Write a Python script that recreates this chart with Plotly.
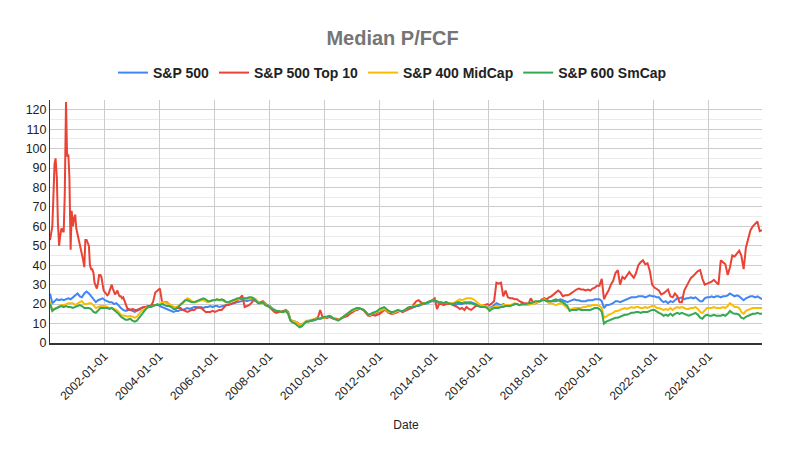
import pandas as pd
import plotly.graph_objects as go

# ---- dates ----
monthly_dates = pd.date_range("2000-01-01", "2025-12-01", freq="MS") + pd.Timedelta(days=9)
top10_dates = list(pd.date_range("2000-01-01", "2002-12-16", freq="SMS") + pd.Timedelta(days=9)) + \
    list(pd.date_range("2003-01-01", "2025-12-01", freq="MS") + pd.Timedelta(days=9))

# ---- S&P 500 (monthly, 2000-2025) ----
sp500 = [
    25.5, 20.5, 21.5, 22.5, 22, 22.5, 22, 22.5, 23, 22.5, 23.5, 24.5,
    25.5, 24, 23.5, 25.5, 26.5, 25.5, 24, 22.5, 21, 22, 22.5, 23,
    22, 21.5, 21, 21, 20, 20.5, 19, 18, 17, 16.5, 17, 17,
    16.5, 16, 16.5, 17, 18, 18.5, 18.5, 19, 19, 19.5, 19.5, 20,
    19, 18.5, 18, 17.5, 17, 16.5, 16, 16.5, 16.5, 17, 17, 17.5,
    18, 17.5, 18, 18.5, 18.5, 18, 18.5, 18, 18.5, 18.5, 19, 18.5,
    19, 19, 18.5, 18.8, 19, 19.5, 19.5, 20, 20.5, 20.5, 21, 21,
    21.5, 22, 21.5, 22, 22, 22.5, 22, 21, 20.5, 21, 20, 19.5,
    19, 18, 17, 16, 16.5, 16, 16.5, 17, 16, 12, 11, 11,
    10.5, 9.5, 9.5, 10.5, 11, 11, 11.5, 11.5, 12, 12.5, 12.5, 13,
    13, 13, 13.5, 13, 12.5, 12.5, 12, 12.5, 13.5, 14, 14.5, 15.5,
    16.5, 17, 17, 17.5, 17.5, 17, 16, 14.5, 14.5, 15, 15, 15.5,
    16, 16.5, 17.5, 17, 16, 15.5, 15.5, 16, 16.5, 16.5, 16, 16.5,
    17.5, 18, 18, 18.5, 19, 19, 19.5, 20, 20, 20.5, 21, 21.5,
    21.5, 21, 20.5, 20.5, 20.5, 21, 20.5, 20.5, 20, 19.5, 20, 20,
    20, 20.5, 20.5, 21, 21, 20.5, 20, 19.5, 19, 19.5, 19, 18.5,
    18, 18.5, 19.5, 20.5, 20, 19.5, 20, 19.5, 19.5, 19.5, 19.5, 20,
    20, 19.5, 19.5, 19.5, 19.5, 20, 20.5, 20.5, 20.5, 21, 21.5, 22.5,
    23, 22, 21.5, 21.5, 21.5, 21.5, 22, 22.5, 22, 21.5, 21, 21.5,
    22, 22.5, 22, 22, 21.5, 21.5, 21.5, 22, 22, 22, 22.5, 22.5,
    22.5, 21.5, 18, 19.5, 19.5, 20, 20.5, 21.5, 21.5, 21, 21.5, 22,
    22.5, 23, 23.5, 23.5, 23.5, 24, 24, 24, 23.5, 24, 24.5, 24,
    24, 23.5, 23.5, 22, 21, 21.5, 20.5, 21.5, 21, 22, 23, 23,
    23.5, 22.5, 23, 23, 23.5, 23, 23.5, 22.5, 21.5, 21.5, 23, 23.5,
    23.5, 24, 23.5, 24, 24, 23.5, 24, 24, 24.5, 25.5, 24.5, 24,
    24.5, 24, 23, 22, 23, 23.5, 24, 24, 23.5, 24, 23, 22.5,
]

# ---- S&P 500 Top 10 (semi-monthly 2000-2002, monthly 2003-2025) ----
sp500_top10 = [
    53, 56, 60, 75, 92, 95, 85, 62, 50, 55, 59, 58, 57, 76, 124, 96, 97, 85, 48, 68, 60, 64, 66, 59,
    56, 54, 52, 49, 46, 43, 39, 53, 53, 52, 50, 40, 38, 38, 36, 31, 29, 28, 31, 35, 35, 34, 30, 27,
    26, 25, 24.5, 25, 27, 29, 30, 28, 26, 25, 26, 27, 25, 24, 24, 23, 23.5, 22, 20, 18, 17, 17.5, 17, 17,
    17.5, 17, 17, 17.5, 18, 18.5, 18.5, 19, 19, 21, 26, 27,
    28, 20.5, 21, 21, 20, 19, 18.5, 18, 18, 18, 17, 16.5,
    16, 16.5, 17, 17, 18, 18.5, 18, 17, 16, 16, 16, 16.5,
    16, 16.5, 17, 17, 18, 19.5, 19.5, 20, 20.5, 21, 22, 23,
    24.5, 18.5, 19, 19.5, 20.5, 22, 21.5, 20.5, 21, 21.5, 20.5, 19.5,
    18, 17, 16, 15.5, 16, 16, 16.5, 16.5, 15.5, 12, 11, 10.5,
    10.5, 9.5, 9.5, 10.5, 11, 11.5, 11.5, 12, 12.5, 13, 17, 13.5,
    13, 13, 13.5, 13, 12.5, 12.5, 12, 12.5, 13, 13.5, 14, 15,
    16, 16.5, 17, 17.5, 17.5, 17, 15.5, 14, 14, 14.5, 14, 14.5,
    15, 16, 17, 16.5, 15.5, 15, 15, 15.5, 16, 16.5, 16, 16.5,
    17, 17.5, 18, 20, 21.5, 22, 21, 20, 20.5, 21, 21.5, 22,
    23, 17.5, 20, 20, 19.5, 20, 20, 20, 19.5, 19, 18.5, 17.5,
    18, 17, 18.5, 17.5, 17, 18, 19, 19, 19, 19.5, 19.5, 20,
    19.5, 20.5, 21.5, 31, 30.5, 31, 24, 27, 23.5, 23, 23, 22.5,
    22.5, 21.5, 21, 20.5, 20.5, 20, 23, 21, 20.5, 21, 21.5, 22.5,
    23, 22.5, 23.5, 24, 25, 26.5, 27, 26, 24, 24.5, 24.5, 25,
    26, 26.5, 27.5, 28, 27.5, 27.5, 27, 27.5, 27, 28, 28.5, 29.5,
    29.5, 33, 22.5, 25, 27, 30, 32, 36, 37.5, 30, 34, 33,
    35, 36.5, 35, 33.5, 36, 40, 41.5, 42.5, 40.5, 41, 37, 30,
    28.5, 27.5, 27, 25, 25.5, 26.5, 27.5, 24, 23.5, 25.5, 24, 21,
    21, 27, 29, 32, 33.5, 34.5, 35.5, 37, 37.5, 33, 30, 30.5,
    31, 31.5, 32.5, 31, 30, 42.5, 41.5, 40.5, 35, 39, 45, 44.5,
    46, 47.5, 45, 38, 49, 54, 58, 60, 61.5, 62.5, 57.5, 58,
]

# ---- S&P 400 MidCap (monthly) ----
sp400_midcap = [
    21.5, 17, 17.5, 18, 19, 19.5, 19.5, 20, 20.5, 20.5, 20.5, 19.5,
    20.5, 21, 21.5, 20, 20, 20.5, 20.5, 19.5, 18, 18.5, 19, 19,
    19, 18.5, 18, 18, 17.5, 17, 16, 14.5, 14, 14, 13.5, 14,
    13.5, 13, 13.5, 15, 16.5, 17, 18, 18.5, 18.5, 19, 19.5, 19.5,
    20, 21, 21, 20.5, 20, 19.5, 18.5, 18.5, 19, 20, 20.5, 21.5,
    23, 22.5, 21.5, 21, 21, 21.5, 22, 22, 21.5, 21, 21.5, 22,
    22, 22.5, 22, 22, 21.5, 21, 21, 21.5, 22, 22, 22.5, 22.5,
    22.5, 23, 22.5, 23, 23, 23, 22.5, 21, 20.5, 21, 20, 19,
    18.5, 18, 17, 16.5, 16.5, 16, 16, 16.5, 15.5, 12, 11, 11,
    10.5, 9.5, 9.5, 10.5, 11.5, 11.5, 12, 12, 12.5, 12.5, 12.5, 13,
    13, 13.5, 14, 13.5, 12.5, 12, 12, 12.5, 13.5, 14.5, 15, 16,
    16.5, 17, 17.5, 18, 17.5, 17, 16, 14.5, 14.5, 15.5, 15.5, 16,
    16.5, 17, 17.5, 17, 16, 16, 15.5, 16, 16.5, 16.5, 16.5, 17,
    18, 18.5, 18.5, 19, 19.5, 19.5, 20, 20.5, 20.5, 21, 21.5, 22,
    22, 21.5, 21, 21, 20.5, 21, 20.5, 20.5, 20.5, 21, 22, 22.5,
    22, 22.5, 23, 23, 23, 22.5, 21.5, 20.5, 19.5, 19.5, 19, 18.5,
    17.5, 18, 18.5, 19, 19, 19, 19.5, 19.5, 19.5, 19.5, 20, 20.5,
    20, 19.5, 19.5, 19.5, 19.5, 19.5, 20, 20, 20.5, 21, 21.5, 22,
    22.5, 21.5, 20.5, 20.5, 20, 19.5, 20, 20.5, 20, 19, 18, 17,
    17.5, 18, 18, 18, 18, 18.5, 18.5, 19, 19, 19.5, 19.5, 19.5,
    19, 18, 13, 13.5, 14.5, 15, 15.5, 16.5, 16.5, 17, 17.5, 18,
    17.5, 18, 18.5, 18, 18.5, 18.5, 18, 18, 18.5, 18, 18.5, 19,
    19, 18, 18, 17.5, 17, 17.5, 17, 18, 17, 18, 18.5, 18,
    18.5, 18, 17.5, 17.5, 18, 18, 18.5, 17.5, 16, 15.5, 17, 18,
    18, 18, 18.5, 18, 18, 18, 18.5, 18, 19, 20.5, 19.5, 18.5,
    18.5, 18, 16, 15, 16.5, 17, 17.5, 18, 18, 18, 18, 18,
]

# ---- S&P 600 SmCap (monthly) ----
sp600_smcap = [
    20, 16.5, 17.5, 18, 18.5, 19, 18.5, 19, 18.5, 18.5, 18, 18.5,
    19, 19.5, 19, 18, 18, 18, 17.5, 16, 15.5, 17, 18, 18,
    18, 18, 17.5, 18, 17, 16, 15, 13.5, 12.5, 12, 12, 12.5,
    11.5, 11, 11.5, 13, 14.5, 16.5, 17.5, 18.5, 18.5, 19, 19.5, 19.5,
    19.5, 20, 19.5, 19, 19, 18.5, 17.5, 17.5, 18.5, 19.5, 20.5, 22,
    22, 21.5, 21, 21, 21.5, 22, 22.5, 23, 22.5, 21.5, 21.5, 22,
    22, 22.5, 22, 22.5, 22, 21, 21, 21.5, 22, 22.5, 23, 23,
    22.5, 23, 23, 23.5, 23.5, 23, 22, 20.5, 20.5, 21, 19.5, 19,
    18.5, 17.5, 17, 16.5, 16.5, 16, 16, 16.5, 15, 11.5, 10.5, 10,
    9, 8, 8.5, 10, 11, 11, 11.5, 12, 12, 12.5, 12.5, 13,
    13.5, 13.5, 14, 13.5, 12.5, 12, 11.5, 12.5, 13.5, 14.5, 15.5, 16,
    17, 17.5, 18, 18, 17.5, 17, 16, 14.5, 15, 15.5, 16, 16.5,
    17.5, 18, 18.5, 17.5, 16.5, 16, 16, 16.5, 17, 16.5, 16.5, 17,
    18, 18.5, 18.5, 18.5, 19, 19.5, 20, 20.5, 20.5, 21, 21.5, 22,
    22, 21.5, 21, 21, 20.5, 21, 20.5, 20, 20, 20.5, 21, 21,
    20.5, 21, 21, 20.5, 20.5, 20, 19.5, 19, 18.5, 18.5, 18.5, 18,
    16.5, 17.5, 18, 18, 18, 18.5, 18.5, 19, 19, 19, 19.5, 20,
    20, 19.5, 20, 20, 20, 20.5, 20.5, 21, 21.5, 21.5, 21.5, 22,
    22, 21.5, 21.5, 21.5, 22, 22.5, 22, 21.5, 21, 20, 19, 16.5,
    17, 17, 17, 17.5, 17, 17, 17, 17, 17, 17.5, 18, 18,
    17.5, 16, 10, 11, 11.5, 12, 12.5, 13, 13, 13.5, 14, 14.5,
    14.5, 15, 15.5, 15.5, 16, 16, 15.5, 16, 16, 16, 16.5, 17,
    17, 16, 15.5, 15, 14, 14.5, 14, 15, 14, 15, 15.5, 15,
    15.5, 15, 14.5, 14, 14.5, 15, 15.5, 14.5, 13, 12.5, 14, 14.5,
    14, 14, 14.5, 14, 14, 14, 14.5, 14, 15, 16.5, 15.5, 15,
    15, 14.5, 13, 12.5, 13.5, 14, 14.5, 15, 15, 15.5, 15, 15,
]

series = [
    ("S&P 500", monthly_dates, sp500, "#4285F4"),
    ("S&P 500 Top 10", top10_dates, sp500_top10, "#EA4335"),
    ("S&P 400 MidCap", monthly_dates, sp400_midcap, "#FBBC04"),
    ("S&P 600 SmCap", monthly_dates, sp600_smcap, "#34A853"),
]

fig = go.Figure()
for name, x, y, color in series:
    fig.add_trace(go.Scatter(x=list(x), y=y, name=name, mode="lines",
                             line=dict(color=color, width=2)))

FONT = "Liberation Sans, Arial, sans-serif"
fig.update_layout(
    width=785, height=455,
    margin=dict(l=50, r=23, t=100, b=112, autoexpand=False),
    paper_bgcolor="white", plot_bgcolor="white",
    font=dict(family=FONT, size=12, color="#222222"),
    title=dict(text="Median P/FCF", x=0.5, xanchor="center", xref="container",
               y=1 - 37.5 / 455, yanchor="middle", yref="container",
               font=dict(family=FONT, size=20, color="#757575", weight="bold")),
    legend=dict(orientation="h", x=0.5, xanchor="center", xref="container",
                y=1 - 73 / 455, yanchor="middle", yref="container",
                font=dict(family=FONT, size=14, color="#222222", weight="bold"),
                itemwidth=30, bgcolor="rgba(0,0,0,0)"),
    showlegend=True,
)
fig.update_xaxes(
    type="date",
    range=["2000-01-10", "2025-12-10"],
    tick0="2002-01-01", dtick="M24", tickformat="%Y-%m-%d",
    tickangle=-45, tickfont=dict(size=12, color="#222222"),
    showgrid=True, gridcolor="#cccccc", gridwidth=1,
    showline=True, linecolor="#333333", linewidth=1.5,
    ticks="", zeroline=False,
    title=dict(text="Date", font=dict(size=12, color="#222222"), standoff=19),
)
fig.update_yaxes(
    range=[0, 125], tick0=0, dtick=10,
    tickfont=dict(size=12.5, color="#222222"),
    showgrid=True, gridcolor="#cccccc", gridwidth=1,
    minor=dict(dtick=5, tick0=0, showgrid=True, gridcolor="#ebebeb", gridwidth=1),
    showline=True, linecolor="#333333", linewidth=1,
    zeroline=False, ticks="", automargin=False,
)

fig.write_html("out.html", config={"displayModeBar": False},
               post_script="document.body.style.margin='0';")
